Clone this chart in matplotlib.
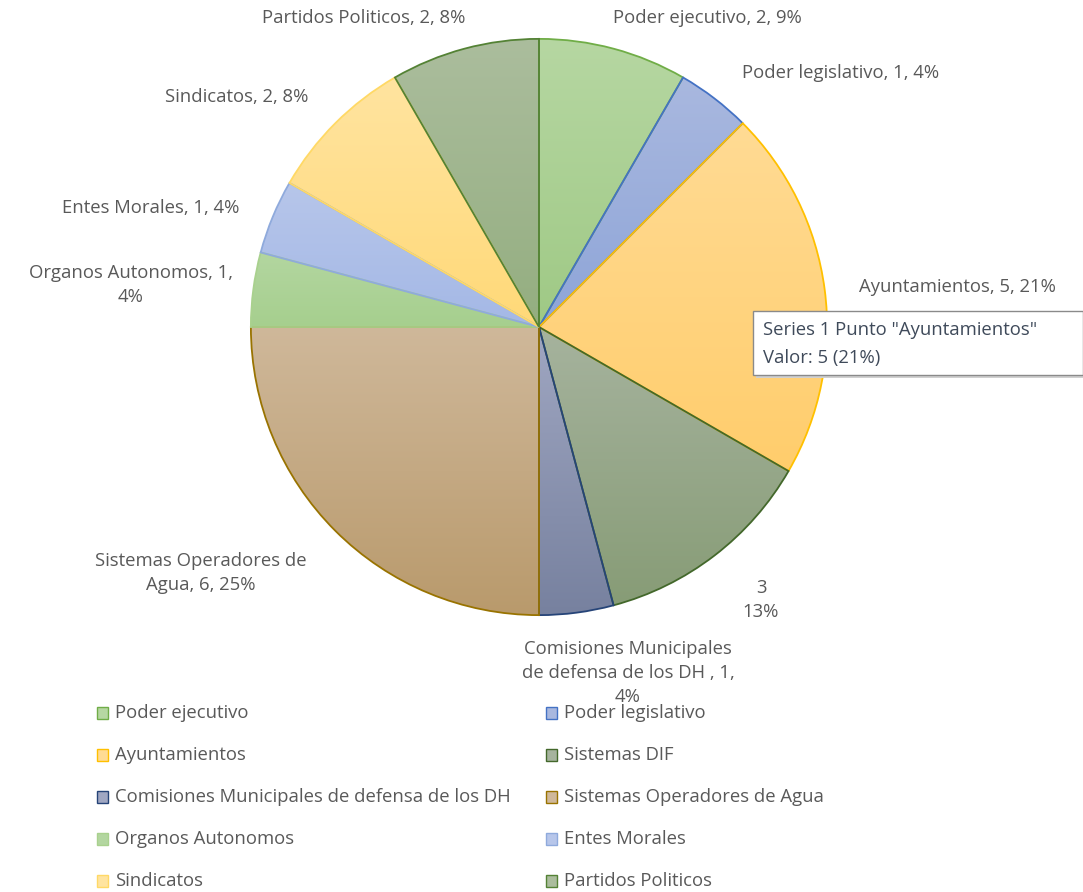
import numpy as np
import matplotlib
matplotlib.use("Agg")
import matplotlib.pyplot as plt
from matplotlib.colors import LinearSegmentedColormap
from matplotlib.patches import Rectangle

plt.rcParams['font.family'] = ['Open Sans', 'DejaVu Sans']

categorias = ["Poder ejecutivo", "Poder legislativo", "Ayuntamientos", "Sistemas DIF",
              "Comisiones Municipales de defensa de los DH", "Sistemas Operadores de Agua",
              "Organos Autonomos", "Entes Morales", "Sindicatos", "Partidos Politicos"]
valores = [2, 1, 5, 3, 1, 6, 1, 1, 2, 2]
porcentajes = [9, 4, 21, 13, 4, 25, 4, 4, 8, 8]

# etiquetas tal como salen en el grafico
etiquetas = ["Poder ejecutivo, 2, 9%", "Poder legislativo, 1, 4%", "Ayuntamientos, 5, 21%",
             "3\n13%", "Comisiones Municipales\nde defensa de los DH , 1,\n4%",
             "Sistemas Operadores de\nAgua, 6, 25%", "Organos Autonomos, 1,\n4%",
             "Entes Morales, 1, 4%", "Sindicatos, 2, 8%", "Partidos Politicos, 2, 8%"]
pos_etiquetas = [(707, 18), (841, 73), (957, 287), (761, 600), (628, 673),
                 (201, 573), (131, 285), (151, 208), (237, 97), (364, 18)]

arriba = ["#b6d7a2", "#a9b8df", "#ffdb94", "#a6b39e", "#a0a7c2", "#cfb89a",
          "#b3d6a0", "#b7c6ea", "#ffe4a0", "#abbd9d"]
abajo = ["#9fc985", "#8ea5d8", "#ffcd6c", "#879c76", "#77819f", "#b99a6c",
         "#a6cf8e", "#a4b8e6", "#ffd978", "#94ae80"]
bordes = ["#70ad47", "#4472c4", "#ffc000", "#43682b", "#264478", "#997300",
          "#a9d18e", "#8faadc", "#ffd966", "#548235"]

W, H = 1083, 892
fs = 13.3
fig = plt.figure(figsize=(W / 100, H / 100), dpi=100)
cx, cy, r = 539, 327, 291
ax = fig.add_axes([(cx - r) / W, (H - cy - r) / H, 2 * r / W, 2 * r / H])

wedges, _ = ax.pie(valores, startangle=90, counterclock=False, radius=1,
                   wedgeprops=dict(linewidth=1.3))
for i, w in enumerate(wedges):
    w.set_facecolor('none')
    w.set_edgecolor(bordes[i])
    w.set_zorder(3)
    verts = w.get_path().vertices
    x0, y0 = verts.min(axis=0)
    x1, y1 = verts.max(axis=0)
    cmap = LinearSegmentedColormap.from_list("g%d" % i, [abajo[i], arriba[i]])
    grad = np.linspace(0, 1, 256).reshape(-1, 1)
    im = ax.imshow(grad, extent=(x0, x1, y0, y1), origin='lower', cmap=cmap,
                   aspect='auto', zorder=2, interpolation='bilinear')
    im.set_clip_path(w)

ax.set_xlim(-1.01, 1.01)
ax.set_ylim(-1.01, 1.01)
ax.set_aspect('equal')
ax.axis('off')

gris = "#595959"
for txt, (px, py) in zip(etiquetas, pos_etiquetas):
    fig.text(px / W, 1 - py / H, txt, ha='center', va='center', fontsize=fs,
             color=gris, linespacing=1.45)

# tooltip
fig.patches.append(Rectangle(((753 + 3) / W, 1 - (375 + 3) / H), 330 / W, 64 / H,
                             transform=fig.transFigure, facecolor="#d0d0d0",
                             edgecolor='none', zorder=5))
fig.patches.append(Rectangle((753 / W, 1 - 375 / H), 330 / W, 64 / H,
                             transform=fig.transFigure, facecolor="white",
                             edgecolor="#8a8a8a", linewidth=1, zorder=6))
fig.text(763 / W, 1 - 330 / H, 'Series 1 Punto "Ayuntamientos"', ha='left', va='center',
         fontsize=fs, color="#3f4a5a", zorder=7)
fig.text(763 / W, 1 - 358 / H, 'Valor: 5 (21%)', ha='left', va='center',
         fontsize=fs, color="#3f4a5a", zorder=7)

# leyenda, dos columnas llenadas por filas
for i, cat in enumerate(categorias):
    col = i % 2
    fila = i // 2
    mx = 97 if col == 0 else 546
    my = 713 + fila * 42
    fig.patches.append(Rectangle((mx / W, 1 - (my + 6) / H), 11 / W, 12 / H,
                                 transform=fig.transFigure, facecolor=arriba[i],
                                 edgecolor=bordes[i], linewidth=1))
    fig.text((mx + 18) / W, 1 - my / H, cat, ha='left', va='center',
             fontsize=fs, color=gris)

fig.savefig("out.png", dpi=100)
